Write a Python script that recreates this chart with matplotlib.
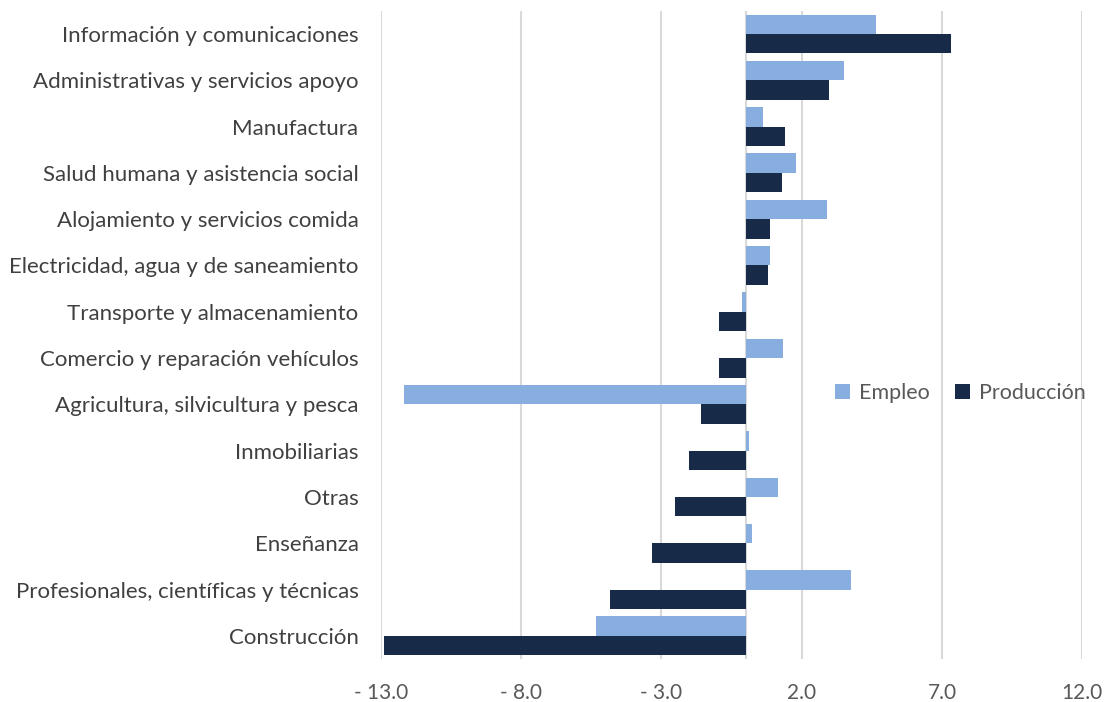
import numpy as np
import matplotlib.pyplot as plt
from matplotlib.ticker import FuncFormatter

plt.rcParams['font.family'] = ['Lato', 'DejaVu Sans']

categories = [
    "Información y comunicaciones",
    "Administrativas y servicios apoyo",
    "Manufactura",
    "Salud humana y asistencia social",
    "Alojamiento y servicios comida",
    "Electricidad, agua y de saneamiento",
    "Transporte y almacenamiento",
    "Comercio y reparación vehículos",
    "Agricultura, silvicultura y pesca",
    "Inmobiliarias",
    "Otras",
    "Enseñanza",
    "Profesionales, científicas y técnicas",
    "Construcción",
]
empleo = [4.64, 3.51, 0.64, 1.80, 2.90, 0.87, -0.13, 1.33, -12.16, 0.11, 1.14, 0.22, 3.75, -5.34]
produccion = [7.31, 2.97, 1.42, 1.30, 0.89, 0.79, -0.94, -0.95, -1.59, -2.01, -2.51, -3.34, -4.83, -12.87]
xticks = [-13, -8, -3, 2, 7, 12]

c_emp = '#88AEDF'
c_prod = '#172B48'
grey = '#595959'

fig = plt.figure(figsize=(11.1, 7.02), dpi=100)
ax = fig.add_axes([0.343, 0.0613, 0.632, 0.9232])

y = np.arange(len(categories))
h = 0.42
ax.barh(y - h / 2, empleo, height=h, color=c_emp, label='Empleo', zorder=3)
ax.barh(y + h / 2, produccion, height=h, color=c_prod, label='Producción', zorder=3)

ax.set_xlim(-13, 12)
ax.set_ylim(len(categories) - 0.5, -0.5)
ax.set_xticks(xticks)
ax.xaxis.set_major_formatter(FuncFormatter(
    lambda v, p: ('- %.1f' % abs(v)) if v < 0 else '%.1f' % v))
ax.set_yticks(y)
ax.set_yticklabels(categories)
ax.grid(axis='x', color='#D9D9D9', linewidth=1.5, zorder=0)
ax.axvline(0, color='#D9D9D9', linewidth=1.5, zorder=2)
for s in ax.spines.values():
    s.set_visible(False)
ax.tick_params(axis='both', length=0, colors=grey)
ax.tick_params(axis='x', pad=17, labelsize=15)
ax.tick_params(axis='y', pad=16, labelsize=16)
for t in ax.get_yticklabels():
    t.set_color('#404040')

ax.legend(loc='center', bbox_to_anchor=(0.826, 0.41), ncol=2, frameon=False,
          fontsize=15.5, handlelength=0.7, handleheight=0.7, handletextpad=0.4,
          columnspacing=1.2, labelcolor=grey)

fig.savefig('out.png', dpi=100)
